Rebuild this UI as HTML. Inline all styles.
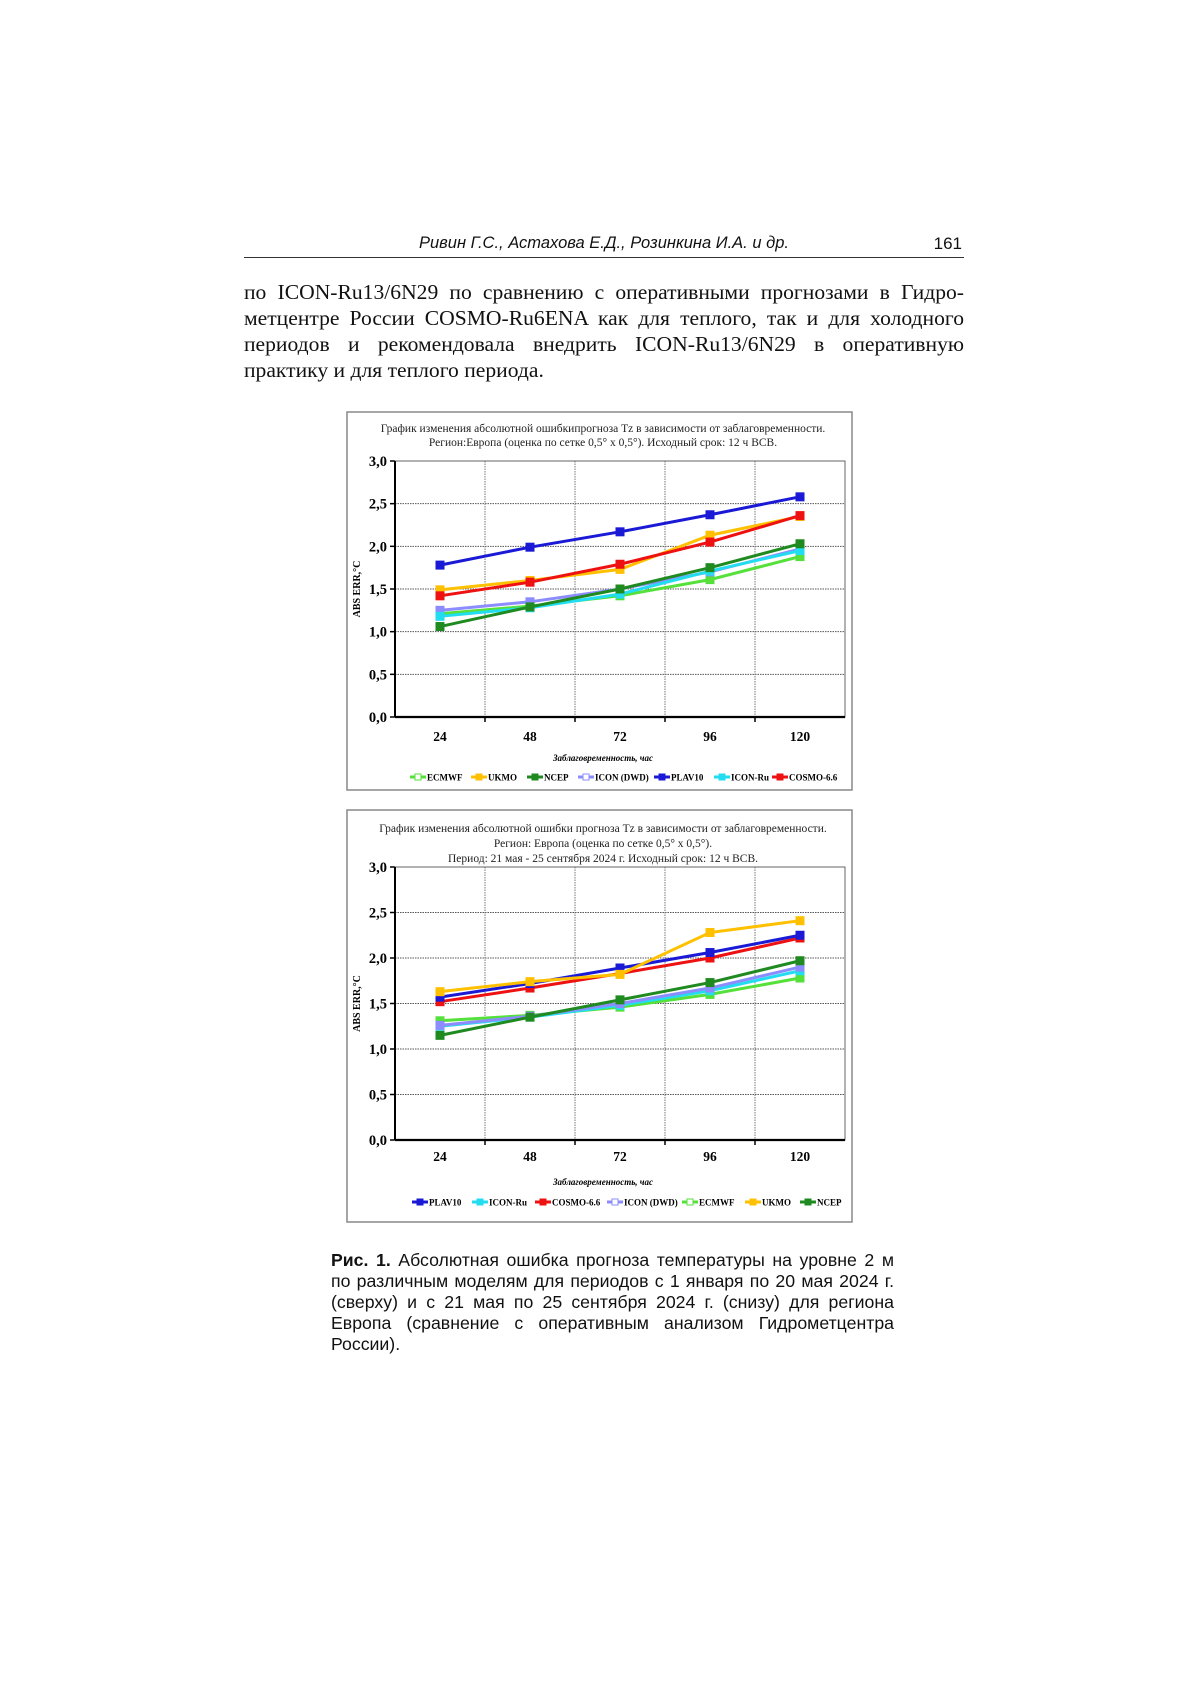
<!DOCTYPE html>
<html><head><meta charset="utf-8">
<style>
body{margin:0;background:#fff;width:1200px;height:1697px;position:relative;overflow:hidden}
.hdr{position:absolute;left:244px;top:234px;width:720px;font:italic 16.5px "Liberation Sans",sans-serif;color:#111}
.hdr .c{position:absolute;left:0;width:720px;text-align:center}
.hdr .n{position:absolute;right:2px;font-style:normal;font-size:17px}
.rule{position:absolute;left:244px;top:257px;width:720px;height:1px;background:#333}
.para{position:absolute;left:244px;top:279px;width:720px;font:21.6px/26px "Liberation Serif","Noto Serif CJK SC",serif;text-align:justify;color:#111}
.cap{position:absolute;left:331px;top:1250px;width:563px;font:17.7px/21px "Liberation Sans",sans-serif;text-align:justify;color:#111}
svg{position:absolute;left:0;top:0}
</style></head><body>
<div class="hdr"><span class="c">Ривин Г.С., Астахова Е.Д., Розинкина И.А. и др.</span><span class="n">161</span></div>
<div class="rule"></div>
<div class="para">по ICON-Ru13/6N29 по сравнению с оперативными прогнозами в Гидро­метцентре России COSMO-Ru6ENA как для теплого, так и для холодного периодов и рекомендовала внедрить ICON-Ru13/6N29 в оперативную практику и для теплого периода.</div>
<svg id="sv" width="1200" height="1697"></svg>
<div class="cap"><b>Рис. 1.</b> Абсолютная ошибка прогноза температуры на уровне 2 м по различным моделям для периодов с 1 января по 20 мая 2024 г. (сверху) и с 21 мая по 25 сентября 2024 г. (снизу) для региона Европа (сравнение с оперативным анализом Гидрометцентра России).</div>
<script>
const categories=[24,48,72,96,120];
const yTicks=[0,0.5,1,1.5,2,2.5,3];
const yTickLabels=["0,0","0,5","1,0","1,5","2,0","2,5","3,0"];
const seriesNames=["ECMWF","UKMO","NCEP","ICON (DWD)","PLAV10","ICON-Ru","COSMO-6.6"];
const seriesColors=["#55e03a","#ffc000","#1f8a1f","#8c8cff","#1a1ad6","#22ddf0","#ee1111"];
const c1ECMWF=[1.21,1.30,1.42,1.61,1.88];
const c1UKMO=[1.49,1.60,1.73,2.13,2.35];
const c1NCEP=[1.06,1.29,1.50,1.75,2.03];
const c1ICONDWD=[1.25,1.35,1.50,1.70,1.97];
const c1PLAV10=[1.78,1.99,2.17,2.37,2.58];
const c1ICONRu=[1.18,1.28,1.44,1.71,1.95];
const c1COSMO=[1.42,1.58,1.79,2.05,2.36];
const c2ECMWF=[1.31,1.37,1.46,1.60,1.78];
const c2UKMO=[1.63,1.74,1.82,2.28,2.41];
const c2NCEP=[1.15,1.35,1.54,1.73,1.97];
const c2ICONDWD=[1.26,1.36,1.50,1.67,1.90];
const c2PLAV10=[1.57,1.72,1.89,2.06,2.25];
const c2ICONRu=[1.25,1.35,1.48,1.64,1.86];
const c2COSMO=[1.52,1.67,1.83,2.00,2.22];
const legendOrder1=[0,1,2,3,4,5,6];
const legendOrder2=[4,5,6,3,0,1,2];

const NS="http://www.w3.org/2000/svg";
const sv=document.getElementById('sv');
function mk(t,a,p){const e=document.createElementNS(NS,t);for(const k in a)e.setAttribute(k,a[k]);(p||sv).appendChild(e);return e;}
function txt(x,y,s,a,p){const e=mk('text',Object.assign({x:x,y:y,'font-family':'Liberation Serif, serif'},a),p);e.textContent=s;return e;}

function chart(cfg,data,order,legX,gname){
  const g=mk('g',{});
  
  
  const f=mk('rect',{x:cfg.fx,y:cfg.fy,width:cfg.fw,height:cfg.fh,fill:'#fff',stroke:'#888','stroke-width':1.5},g);
  
  
  cfg.titles.forEach((t,i)=>{const e=txt(603,cfg.ty[i],t,{'font-size':11.5,'text-anchor':'middle',fill:'#222'},g);
    
    });
  const X0=cfg.px0,X1=cfg.px1,Y0=cfg.py0,Y1=cfg.py1;
  const xs=i=>X0+(X1-X0)*(i+0.5)/categories.length;
  const ys=v=>Y0-(Y0-Y1)*v/3;
  yTicks.forEach((v,i)=>{
    if(v>0){const l=mk('line',{x1:X0,x2:X1,y1:ys(v),y2:ys(v),stroke:'#555','stroke-width':1,'stroke-dasharray':'1.5 1'},g);
      
      }
    mk('line',{x1:X0-5,x2:X0,y1:ys(v),y2:ys(v),stroke:'#000','stroke-width':1.5},g);
    const e=txt(X0-8,ys(v)+5,yTickLabels[i],{'font-size':14.5,'font-weight':'bold','text-anchor':'end'},g);
    
    
  });
  for(let i=1;i<categories.length;i++){const x=X0+(X1-X0)*i/categories.length;
    const l=mk('line',{x1:x,x2:x,y1:Y1,y2:Y0,stroke:'#777','stroke-width':1,'stroke-dasharray':'1.5 1'},g);
    
    
    mk('line',{x1:x,x2:x,y1:Y0,y2:Y0+5,stroke:'#000','stroke-width':1.5},g);}
  mk('rect',{x:X0,y:Y1,width:X1-X0,height:Y0-Y1,fill:'none',stroke:'#666','stroke-width':1},g);
  mk('line',{x1:X0,x2:X0,y1:Y1,y2:Y0,stroke:'#000','stroke-width':2},g);
  mk('line',{x1:X0,x2:X1,y1:Y0,y2:Y0,stroke:'#000','stroke-width':2.2},g);
  categories.forEach((c,i)=>{const e=txt(xs(i),cfg.xly,String(c),{'font-size':13.5,'font-weight':'bold','text-anchor':'middle'},g);
    
    });
  const at=txt(603,cfg.aty,cfg.xtitle,{'font-size':9,'font-style':'italic','font-weight':'bold','text-anchor':'middle'},g);
  
  
  const yt=txt(0,0,'ABS ERR,°C',{'font-size':10,'font-weight':'bold','text-anchor':'middle',transform:`translate(${cfg.ytx},${(Y0+Y1)/2}) rotate(-90)`},g);
  
  
  order.forEach(si=>{
    const vals=data[si],col=seriesColors[si];
    const pts=vals.map((v,i)=>xs(i)+','+ys(v)).join(' ');
    const pl=mk('polyline',{points:pts,fill:'none',stroke:col,'stroke-width':3},g);
    
    
    vals.forEach((v,i)=>{const m=mk('rect',{x:xs(i)-4,y:ys(v)-4,width:8,height:8,fill:col,stroke:col},g);
      
      });
  });
  cfg.leg.forEach((si,k)=>{
    const x=legX[k],y=cfg.legy,col=seriesColors[si];
    mk('line',{x1:x,x2:x+16,y1:y,y2:y,stroke:col,'stroke-width':3},g);
    mk('rect',{x:x+5,y:y-3,width:6,height:6,fill:(si==0||si==3)?'#fff':col,stroke:col},g);
    const e=txt(x+17,y+3.5,seriesNames[si],{'font-size':9,'font-weight':'bold'},g);
    
    
  });
}
chart({fx:347,fy:412,fw:505,fh:378,titles:['График изменения абсолютной ошибкипрогноза Tz в зависимости от заблаговременности.','Регион:Европа (оценка по сетке 0,5° x 0,5°). Исходный срок: 12 ч ВСВ.'],ty:[432,446],
  px0:395,px1:845,py0:717,py1:461,xly:741,aty:761,xtitle:'Заблаговременность, час',ytx:360,leg:legendOrder1,legy:777},
  [c1ECMWF,c1UKMO,c1NCEP,c1ICONDWD,c1PLAV10,c1ICONRu,c1COSMO],[0,3,5,2,1,6,4],[410,471,527,578,654,714,772],'chart-jan-may');
chart({fx:347,fy:810,fw:505,fh:412,titles:['График изменения абсолютной ошибки прогноза Tz в зависимости от заблаговременности.','Регион: Европа (оценка по сетке 0,5° x 0,5°).','Период: 21 мая - 25 сентября 2024 г. Исходный срок: 12 ч ВСВ.'],ty:[832,847,862],
  px0:395,px1:845,py0:1140,py1:867,xly:1161,aty:1185,xtitle:'Заблаговременность, час',ytx:360,leg:legendOrder2,legy:1202},
  [c2ECMWF,c2UKMO,c2NCEP,c2ICONDWD,c2PLAV10,c2ICONRu,c2COSMO],[0,5,3,2,6,4,1],[412,472,535,607,682,745,800],'chart-may-sep');
</script>
</body></html>
